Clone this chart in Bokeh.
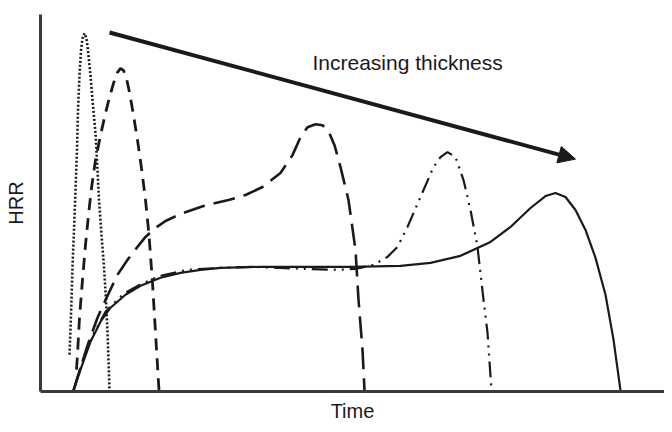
from bokeh.plotting import figure
from bokeh.models import Arrow, NormalHead, Label, FixedTicker, Range1d
from bokeh.embed import file_html
from bokeh.resources import INLINE

# Time / HRR in arbitrary units
dotted_t = [29, 30, 31, 32, 33.5, 35, 36.5, 37.5, 39, 40.5, 42, 44, 46, 47.5, 50, 52, 55, 57, 58.5, 61, 63.5, 65.5, 67, 68, 69]
dotted_h = [37, 62, 92, 125, 162, 202, 242, 282, 317, 342, 354, 359, 354, 342, 317, 292, 259, 222, 192, 157, 125, 92, 59, 32, 1]

short_t = [36, 37, 39, 42, 45, 48, 51, 55, 60, 65, 69, 73, 77, 80, 83, 86, 89, 93, 97, 101, 105, 108.5, 112, 115, 118.5]
short_h = [22, 37, 74, 112, 147, 177, 204, 232, 257, 279, 295, 309, 320, 324, 322, 314, 300, 277, 252, 224, 192, 157, 109, 59, 1]

long_t = [33, 40, 48, 57, 67, 77, 87, 97, 105, 115, 125, 140, 163, 188, 205, 222, 240, 252, 260, 267, 275, 282, 288, 294, 300, 308, 315, 318, 322, 324]
long_h = [1, 24, 49, 74, 96, 117, 132, 145, 155, 164, 171, 178, 186, 192, 197, 205, 219, 237, 255, 265, 268, 267, 261, 247, 225, 192, 142, 92, 42, 1]

dd_t = [33, 42, 52, 65, 83, 101, 120, 147, 180, 213, 263, 297, 315, 333, 347, 357, 367, 380, 393, 400, 407, 415, 423, 430, 437, 443, 447, 451]
dd_h = [1, 30, 56, 80, 98, 108, 116, 122, 124, 125, 123, 122, 123, 127, 135, 145, 165, 195, 225, 235, 240, 235, 212, 182, 145, 92, 59, 1]

solid_t = [33, 40, 50, 60, 70, 85, 100, 120, 140, 160, 180, 220, 260, 310, 360, 390, 420, 450, 470, 490, 505, 515, 525, 535, 545, 555, 565, 573, 580]
solid_h = [1, 22, 50, 70, 84, 97, 106, 114, 119, 122, 124, 125, 125, 125, 126, 129, 136, 150, 165, 184, 196, 199, 195, 182, 162, 134, 97, 52, 1]

arrow_t = [69, 535]
arrow_h = [360, 233]
note_text = "Increasing thickness"
note_t, note_h = 272, 330

FONT = "Liberation Sans"
INK = "#1a1a1a"

p = figure(width=664, height=424, output_backend="svg", toolbar_location=None,
           x_range=Range1d(0, 624), y_range=Range1d(0, 378),
           min_border_left=40, min_border_right=0, min_border_top=14, min_border_bottom=32)
p.outline_line_color = None
p.xgrid.visible = False
p.ygrid.visible = False
p.background_fill_color = "white"

for ax in (p.xaxis[0], p.yaxis[0]):
    ax.ticker = FixedTicker(ticks=[])
    ax.axis_line_color = "#3a3a3a"
    ax.axis_line_width = 3
    ax.axis_label_text_font = FONT
    ax.axis_label_text_font_size = "20px"
    ax.axis_label_text_font_style = "normal"
    ax.axis_label_text_color = INK
    ax.major_label_text_font_size = "0px"
    ax.major_tick_line_color = None
    ax.minor_tick_line_color = None
p.xaxis.axis_label = "Time"
p.yaxis.axis_label = "HRR"
p.xaxis.axis_label_standoff = 8
p.yaxis.axis_label_standoff = 14

p.line(dotted_t, dotted_h, line_color=INK, line_width=2.6, line_dash="2 2")
p.line(short_t, short_h, line_color=INK, line_width=2.8, line_dash="12 8")
p.line(long_t, long_h, line_color=INK, line_width=2.6, line_dash="22 9")
p.line(dd_t, dd_h, line_color=INK, line_width=2.2, line_dash="16 6 2 6 2 6")
p.line(solid_t, solid_h, line_color=INK, line_width=2.2)

p.add_layout(Arrow(end=NormalHead(size=17, fill_color=INK, line_color=INK),
                   x_start=arrow_t[0], y_start=arrow_h[0], x_end=arrow_t[1], y_end=arrow_h[1],
                   line_color=INK, line_width=4))
p.add_layout(Label(x=note_t, y=note_h, text=note_text, text_font=FONT, text_font_size="21px",
                   text_color=INK, text_baseline="alphabetic"))

open("out.html", "w").write(file_html(p, INLINE))
